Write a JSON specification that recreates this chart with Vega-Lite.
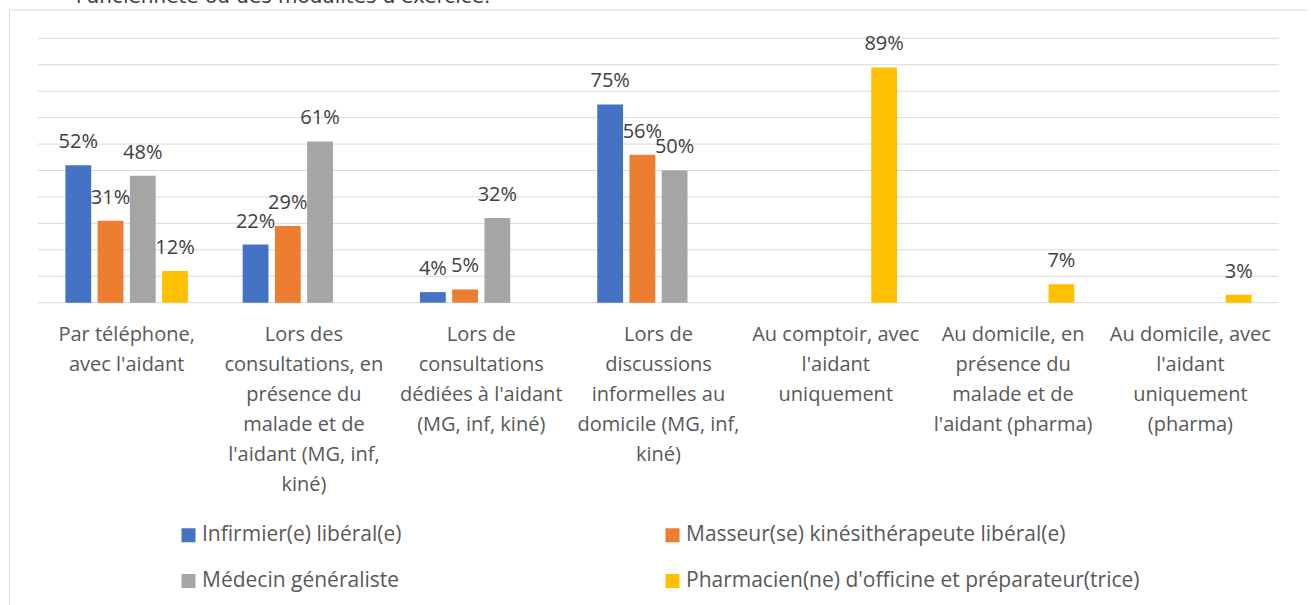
{
  "$schema": "https://vega.github.io/schema/vega-lite/v6.json",
  "width": 1299,
  "height": 600,
  "autosize": {"type": "none"},
  "padding": {"left": 9, "top": 9.5, "right": 0, "bottom": 0},
  "background": "white",
  "config": {"view": {"stroke": "#d9d9d9", "strokeWidth": 1}, "font": "Open Sans"},
  "title": {"text": "l'ancienneté ou des modalités d'exercice.", "anchor": "start", "dx": 67, "fontSize": 20, "font": "DejaVu Sans", "fontWeight": "normal", "color": "#404040", "baseline": "alphabetic", "offset": -13.5},
  "datasets": {
    "bars": [
      {"cat": "Par téléphone, avec l'aidant", "prof": "Infirmier(e) libéral(e)", "pct": 0.52},
      {"cat": "Par téléphone, avec l'aidant", "prof": "Masseur(se) kinésithérapeute libéral(e)", "pct": 0.31},
      {"cat": "Par téléphone, avec l'aidant", "prof": "Médecin généraliste", "pct": 0.48},
      {"cat": "Par téléphone, avec l'aidant", "prof": "Pharmacien(ne) d'officine et préparateur(trice)", "pct": 0.12},
      {"cat": "Lors des consultations, en présence du malade et de l'aidant (MG, inf, kiné)", "prof": "Infirmier(e) libéral(e)", "pct": 0.22},
      {"cat": "Lors des consultations, en présence du malade et de l'aidant (MG, inf, kiné)", "prof": "Masseur(se) kinésithérapeute libéral(e)", "pct": 0.29},
      {"cat": "Lors des consultations, en présence du malade et de l'aidant (MG, inf, kiné)", "prof": "Médecin généraliste", "pct": 0.61},
      {"cat": "Lors de consultations dédiées à l'aidant (MG, inf, kiné)", "prof": "Infirmier(e) libéral(e)", "pct": 0.04},
      {"cat": "Lors de consultations dédiées à l'aidant (MG, inf, kiné)", "prof": "Masseur(se) kinésithérapeute libéral(e)", "pct": 0.05},
      {"cat": "Lors de consultations dédiées à l'aidant (MG, inf, kiné)", "prof": "Médecin généraliste", "pct": 0.32},
      {"cat": "Lors de discussions informelles au domicile (MG, inf, kiné)", "prof": "Infirmier(e) libéral(e)", "pct": 0.75},
      {"cat": "Lors de discussions informelles au domicile (MG, inf, kiné)", "prof": "Masseur(se) kinésithérapeute libéral(e)", "pct": 0.56},
      {"cat": "Lors de discussions informelles au domicile (MG, inf, kiné)", "prof": "Médecin généraliste", "pct": 0.50},
      {"cat": "Au comptoir, avec l'aidant uniquement", "prof": "Pharmacien(ne) d'officine et préparateur(trice)", "pct": 0.89},
      {"cat": "Au domicile, en présence du malade et de l'aidant (pharma)", "prof": "Pharmacien(ne) d'officine et préparateur(trice)", "pct": 0.07},
      {"cat": "Au domicile, avec l'aidant uniquement (pharma)", "prof": "Pharmacien(ne) d'officine et préparateur(trice)", "pct": 0.03}
    ],
    "grid": [
      {"g": 0}, {"g": 0.1}, {"g": 0.2}, {"g": 0.3}, {"g": 0.4}, {"g": 0.5},
      {"g": 0.6}, {"g": 0.7}, {"g": 0.8}, {"g": 0.9}, {"g": 1.0}
    ]
  },
  "layer": [
    {
      "data": {"name": "grid"},
      "mark": {"type": "rule", "color": "#d9d9d9", "strokeWidth": 1},
      "encoding": {
        "y": {"field": "g", "type": "quantitative", "scale": {"domain": [-1.1604, 1.1089], "nice": false, "zero": false}, "axis": null},
        "x": {"datum": 0, "type": "quantitative", "scale": {"domain": [-0.02337, 1.02337], "nice": false, "zero": false}, "axis": null},
        "x2": {"datum": 1}
      }
    },
    {
      "data": {"name": "bars"},
      "encoding": {
        "x": {
          "field": "cat", "type": "nominal",
          "sort": [
            "Par téléphone, avec l'aidant",
            "Lors des consultations, en présence du malade et de l'aidant (MG, inf, kiné)",
            "Lors de consultations dédiées à l'aidant (MG, inf, kiné)",
            "Lors de discussions informelles au domicile (MG, inf, kiné)",
            "Au comptoir, avec l'aidant uniquement",
            "Au domicile, en présence du malade et de l'aidant (pharma)",
            "Au domicile, avec l'aidant uniquement (pharma)"
          ],
          "scale": {"paddingInner": 0, "paddingOuter": 0.1636},
          "axis": {
            "orient": "bottom", "offset": -306.8, "title": null, "domain": false, "ticks": false, "tickSize": 0,
            "labelPadding": 22, "labelFontSize": 20, "labelFont": "Open Sans", "labelColor": "#595959",
            "labelLineHeight": 30, "labelLimit": 400, "labelOverlap": false, "labelAngle": 0, "labelBaseline": "top",
            "labelExpr": "{\"Par téléphone, avec l'aidant\": [\"Par téléphone,\", \"avec l'aidant\"], \"Lors des consultations, en présence du malade et de l'aidant (MG, inf, kiné)\": [\"Lors des\", \"consultations, en\", \"présence du\", \"malade et de\", \"l'aidant (MG, inf,\", \"kiné)\"], \"Lors de consultations dédiées à l'aidant (MG, inf, kiné)\": [\"Lors de\", \"consultations\", \"dédiées à l'aidant\", \"(MG, inf, kiné)\"], \"Lors de discussions informelles au domicile (MG, inf, kiné)\": [\"Lors de\", \"discussions\", \"informelles au\", \"domicile (MG, inf,\", \"kiné)\"], \"Au comptoir, avec l'aidant uniquement\": [\"Au comptoir, avec\", \"l'aidant\", \"uniquement\"], \"Au domicile, en présence du malade et de l'aidant (pharma)\": [\"Au domicile, en\", \"présence du\", \"malade et de\", \"l'aidant (pharma)\"], \"Au domicile, avec l'aidant uniquement (pharma)\": [\"Au domicile, avec\", \"l'aidant\", \"uniquement\", \"(pharma)\"]}[datum.value]"
          }
        },
        "xOffset": {
          "field": "prof", "type": "nominal",
          "sort": ["Infirmier(e) libéral(e)", "Masseur(se) kinésithérapeute libéral(e)", "Médecin généraliste", "Pharmacien(ne) d'officine et préparateur(trice)"],
          "scale": {"paddingInner": 0.2, "paddingOuter": 0.85}
        },
        "y": {"field": "pct", "type": "quantitative", "scale": {"domain": [-1.1604, 1.1089], "nice": false, "zero": false}, "axis": null}
      },
      "layer": [
        {
          "mark": {"type": "bar"},
          "encoding": {
            "color": {
              "field": "prof", "type": "nominal",
              "scale": {
                "domain": ["Infirmier(e) libéral(e)", "Masseur(se) kinésithérapeute libéral(e)", "Médecin généraliste", "Pharmacien(ne) d'officine et préparateur(trice)"],
                "range": ["#4472c4", "#ed7d31", "#a5a5a5", "#ffc000"]
              },
              "legend": {
                "orient": "none", "legendX": 169, "legendY": 515, "columns": 2, "direction": "horizontal", "title": null,
                "symbolType": "square", "symbolSize": 196, "symbolStrokeWidth": 0, "labelFontSize": 21, "labelFont": "Open Sans",
                "labelColor": "#595959", "labelOffset": 3, "columnPadding": 260, "rowPadding": 24, "labelLimit": 600, "padding": 0
              }
            }
          }
        },
        {
          "mark": {"type": "text", "dy": -17, "baseline": "alphabetic", "align": "center", "fontSize": 20, "font": "Open Sans", "color": "#404040"},
          "encoding": {
            "text": {"field": "pct", "type": "quantitative", "format": ".0%"}
          }
        }
      ]
    }
  ],
  "resolve": {"scale": {"x": "independent"}}
}
